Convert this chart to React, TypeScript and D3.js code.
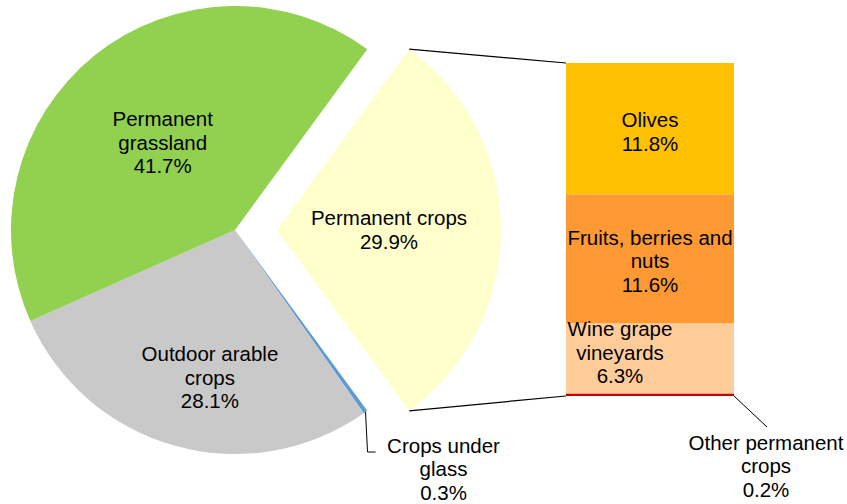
import React from 'react';
import * as d3 from 'd3';

// pie slices (order clockwise starting at the exploded slice)
const pieNames = ['Permanent crops', 'Crops under glass', 'Outdoor arable crops', 'Permanent grassland'];
const pieValues = [29.9, 0.3, 28.1, 41.7];
const pieColors = ['#FFFFCC', '#5B9BD5', '#C9C9C9', '#92D050'];
const pieLabelLines = [
  ['Permanent crops', '29.9%'],
  ['Crops under', 'glass', '0.3%'],
  ['Outdoor arable', 'crops', '28.1%'],
  ['Permanent', 'grassland', '41.7%'],
];

// stacked bar breaking down permanent crops (top to bottom)
const barNames = ['Olives', 'Fruits, berries and nuts', 'Wine grape vineyards', 'Other permanent crops'];
const barValues = [11.8, 11.6, 6.3, 0.2];
const barColors = ['#FFC000', '#FF9933', '#FFCC99', '#C00000'];
const barLabelLines = [
  ['Olives', '11.8%'],
  ['Fruits, berries and', 'nuts', '11.6%'],
  ['Wine grape', 'vineyards', '6.3%'],
  ['Other permanent', 'crops', '0.2%'],
];

const W = 847;
const H = 504;
const cx = 235;
const cy = 230;
const R = 224;
const explode = 42;
const font = 'Liberation Sans, Arial, sans-serif';
const fontSize = 20.5;
const lineH = 23.5;

function Label({ x, y, lines }: { x: number; y: number; lines: string[] }) {
  const top = y - ((lines.length - 1) * lineH) / 2;
  return (
    <text x={x} fontFamily={font} fontSize={fontSize} fill="#000" textAnchor="middle">
      {lines.map((l, i) => (
        <tspan key={i} x={x} y={top + i * lineH} dy="0.35em">{l}</tspan>
      ))}
    </text>
  );
}

export default function App() {
  const total = d3.sum(pieValues);
  const half = (pieValues[0] / total) * Math.PI;
  const pie = d3.pie<number>().sort(null).startAngle(Math.PI / 2 - half).endAngle(Math.PI / 2 - half + 2 * Math.PI);
  const arcs = pie(pieValues);
  const arc = d3.arc<d3.PieArcDatum<number>>().innerRadius(0).outerRadius(R);

  // offset for exploded slice: along its mid angle
  const offset = (i: number) => {
    if (i !== 0) return [0, 0];
    const a = (arcs[0].startAngle + arcs[0].endAngle) / 2;
    return [Math.sin(a) * explode, -Math.cos(a) * explode];
  };
  const polar = (a: number, r: number, i = 1) => {
    const [ox, oy] = offset(i);
    return [cx + ox + Math.sin(a) * r, cy + oy - Math.cos(a) * r];
  };

  // bar scales
  const barTotal = d3.sum(barValues);
  const y = d3.scaleLinear().domain([0, barTotal]).range([63, 396]);
  const x = d3.scaleBand().domain(['bar']).range([566, 734]).padding(0);
  const bx = x('bar') as number;
  const bw = x.bandwidth();
  const cum = barValues.map((_, i) => d3.sum(barValues.slice(0, i)));

  const p0 = polar(arcs[0].startAngle, R, 0);
  const p1 = polar(arcs[0].endAngle, R, 0);

  // label radius factors (fraction of R) and nudges, approximating the Excel placement
  const labelR = [0.5, 0, 0.67, 0.5];
  const labelDx = [0, 0, 15, -2];
  const labelDy = [0, 0, 3, 0];

  const glassMid = (arcs[1].startAngle + arcs[1].endAngle) / 2;
  const gp = polar(glassMid, R);
  const otherY = y(barTotal);

  return (
    <div style={{ position: 'absolute', left: 0, top: 0 }}>
      <svg width={W} height={H} style={{ display: 'block' }}>
        <rect width={W} height={H} fill="#fff" />
        {arcs.map((a, i) => {
          const [ox, oy] = offset(i);
          return (
            <path key={pieNames[i]} d={arc(a) || ''} transform={`translate(${cx + ox},${cy + oy})`} fill={pieColors[i]} />
          );
        })}
        {/* connector lines */}
        <line x1={p0[0]} y1={p0[1]} x2={bx} y2={y(0)} stroke="#000" strokeWidth={1.2} />
        <line x1={p1[0]} y1={p1[1]} x2={bx} y2={y(barTotal)} stroke="#000" strokeWidth={1.2} />
        {/* bar */}
        {barValues.map((v, i) => (
          <rect key={barNames[i]} x={bx} y={y(cum[i])} width={bw} height={Math.max(y(cum[i] + v) - y(cum[i]), 2)} fill={barColors[i]} />
        ))}
        {/* pie labels */}
        {arcs.map((a, i) => {
          if (i === 1) return null;
          const m = (a.startAngle + a.endAngle) / 2;
          const [lx, ly] = polar(m, R * labelR[i], i);
          return <Label key={i} x={lx + labelDx[i]} y={ly + labelDy[i]} lines={pieLabelLines[i]} />;
        })}
        {/* crops under glass leader */}
        <polyline points={`${gp[0]},${gp[1]} ${gp[0] + 2},${gp[1] + 40} ${gp[0] + 10},${gp[1] + 40}`} fill="none" stroke="#000" strokeWidth={1} />
        <Label x={gp[0] + 78} y={gp[1] + 57} lines={pieLabelLines[1]} />
        {/* bar labels */}
        <Label x={bx + bw / 2} y={y(cum[0] + barValues[0] / 2) + 3} lines={barLabelLines[0]} />
        <Label x={bx + bw / 2} y={y(cum[1] + barValues[1] / 2) + 2} lines={barLabelLines[1]} />
        <Label x={bx + 54} y={y(cum[2] + barValues[2] / 2) - 6} lines={barLabelLines[2]} />
        <line x1={bx + bw} y1={otherY} x2={bx + bw + 33} y2={otherY + 31} stroke="#000" strokeWidth={1} />
        <Label x={bx + bw + 32} y={otherY + 70} lines={barLabelLines[3]} />
      </svg>
    </div>
  );
}
